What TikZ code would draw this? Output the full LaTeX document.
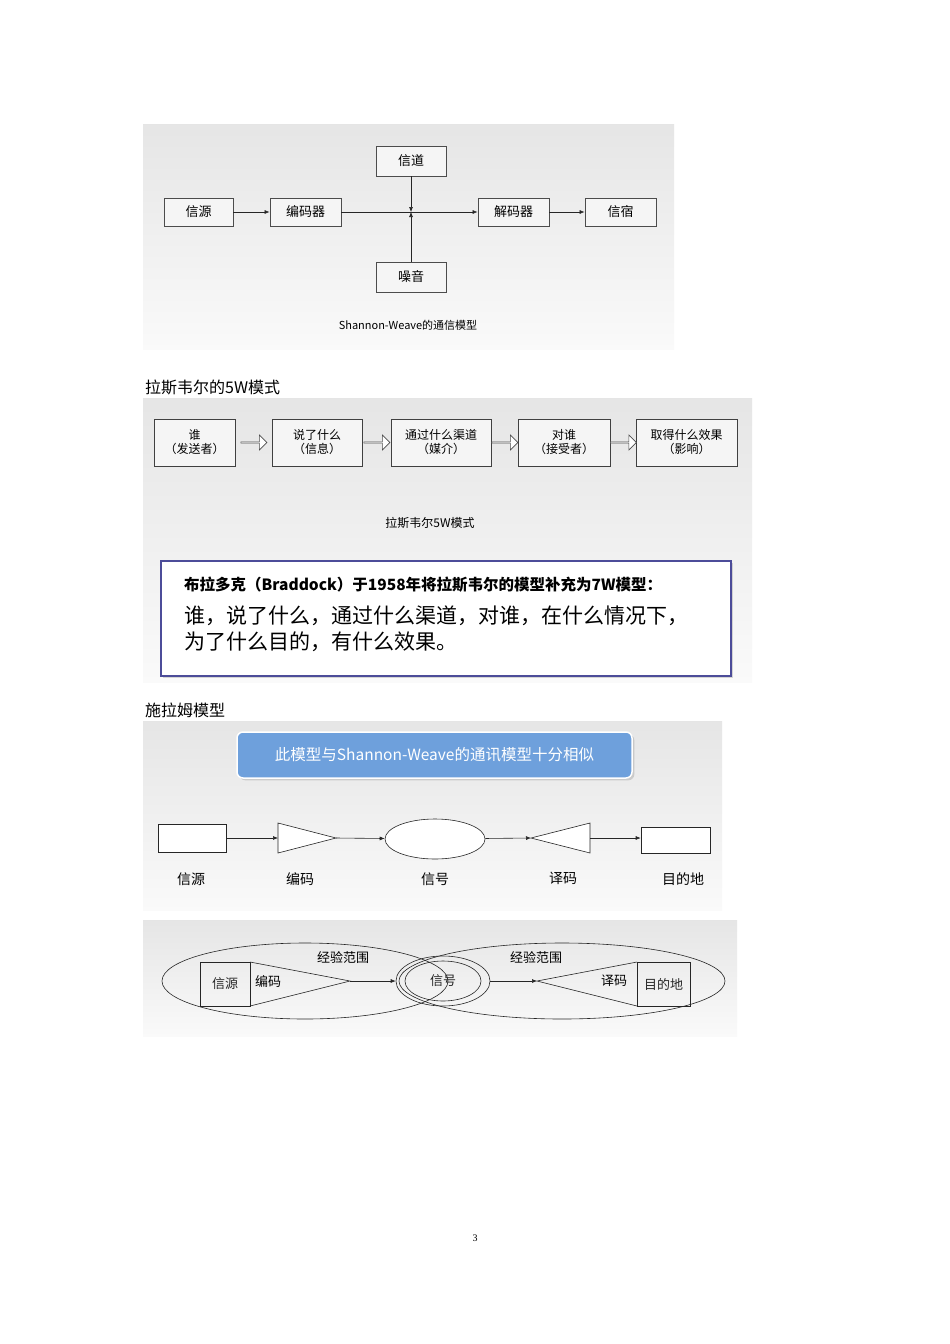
\documentclass[tikz,border=0pt]{standalone}
\usepackage{fontspec}
\setmainfont{Liberation Serif}
\newfontfamily\cjk{Noto Sans CJK SC}
\usetikzlibrary{shapes.arrows,shapes.geometric,calc,arrows.meta,shadows}
\begin{document}
\begin{tikzpicture}[x=1pt,y=-1pt,
  panel/.style={top color=black!10,bottom color=black!2,draw=none},
  bx/.style={draw=black!70,fill=black!4,line width=0.8pt,inner sep=0pt,font=\cjk\fontsize{13}{13}\selectfont},
  wbx/.style={draw=black!75,fill=black!4,line width=0.8pt,inner sep=0pt,align=center,font=\cjk\fontsize{12}{14}\selectfont},
  con/.style={-{Latex[length=5pt,width=4pt]},line width=0.6pt,black!85},
  hol/.style={single arrow,draw=black!70,fill=white,single arrow head extend=3pt,minimum height=26pt,minimum width=15pt,inner sep=0pt,line width=0.6pt},
  lab/.style={font=\cjk\fontsize{14}{14}\selectfont},
  thin/.style={line width=0.6pt,black!85}]
\useasboundingbox (0,0) rectangle (950,1344);
\fill[white] (0,0) rectangle (950,1344);
% Panel 1
\shade[panel] (143,124) rectangle (674,349);
\node[bx,minimum width=69pt,minimum height=28pt] (s1) at (198.5,212) {信源};
\node[bx,minimum width=71pt,minimum height=28pt] (e1) at (305.5,212) {编码器};
\node[bx,minimum width=70pt,minimum height=30pt] (ch) at (411,161) {信道};
\node[bx,minimum width=70pt,minimum height=30pt] (no) at (411,277) {噪音};
\node[bx,minimum width=71pt,minimum height=28pt] (d1) at (513.5,212) {解码器};
\node[bx,minimum width=71pt,minimum height=28pt] (t1) at (620.5,212) {信宿};
\coordinate (j) at (411,212);
\draw[con] (s1) -- (e1);
\draw[con] (e1) -- (d1);
\draw[con] (ch) -- (j);
\draw[con] (no) -- (j);
\draw[con] (d1) -- (t1);
\node[font=\cjk\fontsize{11}{11}\selectfont] (c1) at (408,325) {Shannon-Weave的通信模型};
% heading
\node[anchor=west,font=\cjk\fontsize{16}{16}\selectfont,inner sep=0pt] (h2) at (145,387) {拉斯韦尔的5W模式};
% Panel 2
\shade[panel] (143,398) rectangle (752,682);
\node[wbx,minimum width=81pt,minimum height=47pt] (w1) at (194.5,442.5) {谁\\（发送者）};
\node[wbx,minimum width=90pt,minimum height=47pt] (w2) at (317,442.5) {说了什么\\（信息）};
\node[wbx,minimum width=100pt,minimum height=47pt] (w3) at (441,442.5) {通过什么渠道\\（媒介）};
\node[wbx,minimum width=92pt,minimum height=47pt] (w4) at (564,442.5) {对谁\\（接受者）};
\node[wbx,minimum width=101pt,minimum height=47pt] (w5) at (686.5,442.5) {取得什么效果\\（影响）};
\foreach \a/\b in {w1/w2,w2/w3,w3/w4,w4/w5}
  \node[hol] (ar\a) at ($(\a.east)!0.5!(\b.west)$) {};
\node[font=\cjk\fontsize{12}{12}\selectfont] (c2) at (430,523) {拉斯韦尔5W模式};
\node[draw=black!25!blue!40!gray,line width=1.5pt,fill=white,drop shadow={opacity=0.3},minimum width=570pt,minimum height=115pt,inner sep=0pt] (bb) at (446,618.5) {};
\node[anchor=west,inner sep=0pt,font=\cjk\bfseries\fontsize{15.5}{16}\selectfont] (bt1) at (184,585) {布拉多克（Braddock）于1958年将拉斯韦尔的模型补充为7W模型：};
\node[anchor=north west,inner sep=0pt,align=left,font=\cjk\fontsize{21}{26}\selectfont] (bt2) at (184,606) {谁，说了什么，通过什么渠道，对谁，在什么情况下，\\为了什么目的，有什么效果。};
% heading 3
\node[anchor=west,font=\cjk\fontsize{16}{16}\selectfont,inner sep=0pt] (h3) at (145,710) {施拉姆模型};
% Panel 3
\shade[panel] (143,721) rectangle (722,910);
\node[rounded corners=6pt,fill={rgb,255:red,110;green,160;blue,220},draw=white,line width=1.5pt,drop shadow={opacity=0.3},minimum width=395pt,minimum height=46pt,text=white,font=\cjk\fontsize{15.5}{16}\selectfont] (tt) at (434.5,755) {此模型与Shannon-Weave的通讯模型十分相似};
\node[draw,thin,fill=white,minimum width=68pt,minimum height=28pt,inner sep=0pt] (r1) at (192,838) {};
\coordinate (ea) at (278,838);
\draw[thin,fill=white] (278,823) -- (336,838) -- (278,853) -- cycle;
\coordinate (eb) at (336,838);
\node[draw,thin,ellipse,fill=white,minimum width=100pt,minimum height=40pt,inner sep=0pt] (el) at (435,839) {};
\coordinate (da) at (531,838);
\draw[thin,fill=white] (531,838) -- (590,823) -- (590,853) -- cycle;
\coordinate (db) at (590,838);
\node[draw,thin,fill=white,minimum width=69pt,minimum height=26pt,inner sep=0pt] (r2) at (675.5,840) {};
\draw[con] (r1) -- (ea);
\draw[con] (eb) -- (el);
\draw[con] (el) -- (da);
\draw[con] (db) -- (r2.west|-db);
\node[lab] (l1) at (191,879) {信源};
\node[lab] (l2) at (300,879) {编码};
\node[lab] (l3) at (435,879) {信号};
\node[lab] (l4) at (563,878) {译码};
\node[lab] (l5) at (683,879) {目的地};
% Panel 4
\shade[panel] (143,920) rectangle (737,1036);
\draw[thin] (305,981) ellipse [x radius=143,y radius=38];
\draw[thin] (562,981) ellipse [x radius=163,y radius=38];
\node[draw,thin,minimum width=50pt,minimum height=44pt,inner sep=0pt,font=\cjk\fontsize{13}{13}\selectfont] (src) at (225,984) {信源};
\draw[thin] (250,962) -- (350,981) -- (250,1006);
\coordinate (tipL) at (350,981);
\node[draw,thin,ellipse,minimum width=94pt,minimum height=50pt,inner sep=0pt] (sig) at (443,981) {};
\node[draw,thin,ellipse,minimum width=76pt,minimum height=40pt,inner sep=0pt,font=\cjk\fontsize{13}{13}\selectfont] (sigi) at (443,981) {信号};
\coordinate (tipR) at (537,981);
\draw[thin] (637,962) -- (537,981) -- (637,1006);
\node[draw,thin,minimum width=53pt,minimum height=44pt,inner sep=0pt,font=\cjk\fontsize{13}{13}\selectfont] (dst) at (663.5,984) {目的地};
\draw[con] (tipL) -- (sig);
\draw[con] (sig) -- (tipR);
\node[font=\cjk\fontsize{13}{13}\selectfont] (k1) at (343,957) {经验范围};
\node[font=\cjk\fontsize{13}{13}\selectfont] (k2) at (536,957) {经验范围};
\node[font=\cjk\fontsize{13}{13}\selectfont] (k3) at (268,981) {编码};
\node[font=\cjk\fontsize{13}{13}\selectfont] (k4) at (614,981) {译码};
\node[font=\fontsize{10}{10}\selectfont] (pg) at (475,1238) {3};
\end{tikzpicture}
\end{document}
